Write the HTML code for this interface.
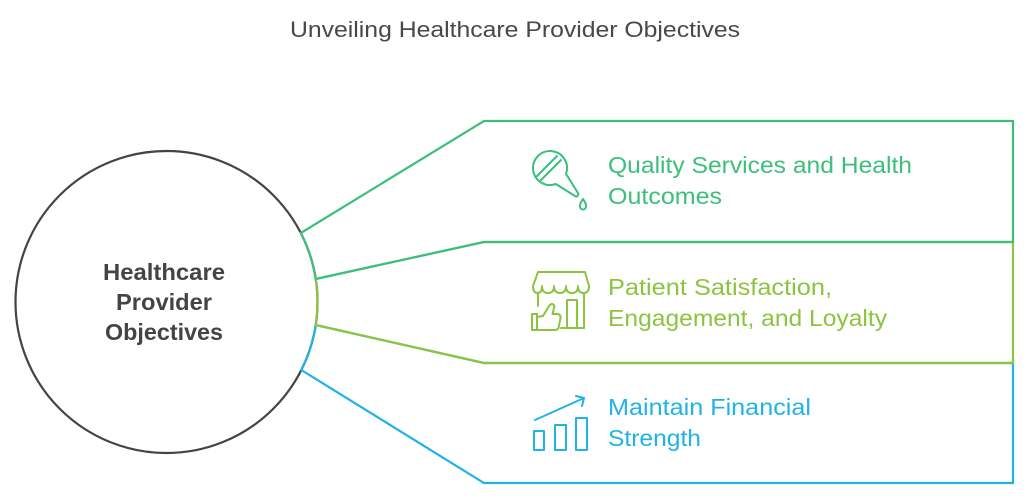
<!DOCTYPE html>
<html>
<head>
<meta charset="utf-8">
<style>
  html, body { margin: 0; padding: 0; background: #ffffff; }
  body { width: 1030px; height: 500px; overflow: hidden; }
  svg { display: block; }
  text { font-family: "Liberation Sans", Arial, sans-serif; }
</style>
</head>
<body>
<svg width="1030" height="500" viewBox="0 0 1030 500" xmlns="http://www.w3.org/2000/svg">
  <rect width="1030" height="500" fill="#ffffff"/>

  <!-- Title -->
  <text x="290" y="37" font-size="22" fill="#484848" textLength="450" lengthAdjust="spacingAndGlyphs">Unveiling Healthcare Provider Objectives</text>

  <!-- Central circle -->
  <circle cx="166.5" cy="302" r="151" fill="none" stroke="#444444" stroke-width="2.2"/>

  <!-- Blue shape -->
  <path d="M 315.7 325 L 484 363 L 1013 363 L 1013 483 L 484 483 L 301.3 370 A 151 151 0 0 0 315.7 325 Z"
        fill="none" stroke="#1fb3e6" stroke-width="2.2" stroke-linejoin="miter"/>
  <!-- Yellow-green shape -->
  <path d="M 315.7 279 L 484 242 L 1013 242 L 1013 363 L 484 363 L 315.7 325 A 151 151 0 0 0 315.7 279 Z"
        fill="none" stroke="#8cc43f" stroke-width="2.2" stroke-linejoin="miter"/>
  <!-- Green shape -->
  <path d="M 300.8 233 L 484 121 L 1013 121 L 1013 242 L 484 242 L 315.7 279 A 151 151 0 0 0 300.8 233 Z"
        fill="none" stroke="#3cbf7c" stroke-width="2.2" stroke-linejoin="miter"/>

  <!-- Center text -->
  <g font-weight="bold" font-size="23" fill="#444444">
    <text x="103" y="280" textLength="122" lengthAdjust="spacingAndGlyphs">Healthcare</text>
    <text x="116" y="310" textLength="96" lengthAdjust="spacingAndGlyphs">Provider</text>
    <text x="105" y="340" textLength="118" lengthAdjust="spacingAndGlyphs">Objectives</text>
  </g>

  <!-- Item 1 text -->
  <g font-size="23" fill="#3cbf7c">
    <text x="608" y="173" textLength="304" lengthAdjust="spacingAndGlyphs">Quality Services and Health</text>
    <text x="608" y="204" textLength="114" lengthAdjust="spacingAndGlyphs">Outcomes</text>
  </g>
  <!-- Item 2 text -->
  <g font-size="23" fill="#8cc43f">
    <text x="608" y="295" textLength="224" lengthAdjust="spacingAndGlyphs">Patient Satisfaction,</text>
    <text x="608" y="326" textLength="279" lengthAdjust="spacingAndGlyphs">Engagement, and Loyalty</text>
  </g>
  <!-- Item 3 text -->
  <g font-size="23" fill="#1fb3e6">
    <text x="608" y="415" textLength="203" lengthAdjust="spacingAndGlyphs">Maintain Financial</text>
    <text x="608" y="446" textLength="93" lengthAdjust="spacingAndGlyphs">Strength</text>
  </g>

  <!-- Icon 1: dropper -->
  <g fill="none" stroke="#3cbf7c" stroke-width="2" stroke-linejoin="round" stroke-linecap="round">
    <path d="M 566 173.8 A 17 17 0 1 0 555.8 184 L 575.6 196.4 Q 577.8 197.4 578.4 193.6 Z"/>
    <line x1="557" y1="156" x2="537" y2="176"/>
    <line x1="561" y1="160" x2="541" y2="180"/>
    <path d="M 583 199 Q 579.5 204 580 206.5 A 3 3 0 0 0 586 206.5 Q 586.5 204 583 199 Z"/>
  </g>

  <!-- Icon 2: storefront with thumbs up -->
  <g fill="none" stroke="#8cc43f" stroke-width="2" stroke-linejoin="round" stroke-linecap="round">
    <path d="M 538 272 L 585 272 L 589 286 Q 589 293 583.5 293 Q 578 293 578 286 Q 578 293 572 293 Q 566 293 566 286 Q 566 293 560 293 Q 554 293 554 286 Q 554 293 548 293 Q 542 293 542 286 Q 542 293 537.5 293 Q 533 293 533 286 Z"/>
    <line x1="538" y1="293" x2="538" y2="306"/>
    <line x1="584" y1="293" x2="584" y2="328"/>
    <line x1="561" y1="328" x2="584" y2="328"/>
    <rect x="567" y="300" width="10" height="28"/>
    <path d="M 532 314 L 537 314 L 537 330 L 532 330 Z"/>
    <path d="M 537 317 L 543 316 L 549 306 Q 552 302 554.5 306 L 552.5 314 L 558 314 Q 561 315 560.5 318 L 558.5 328 Q 557.5 330 554.5 330 L 537 330"/>
  </g>

  <!-- Icon 3: growth chart -->
  <g fill="none" stroke="#1fb3e6" stroke-width="2" stroke-linejoin="round" stroke-linecap="round">
    <rect x="534" y="431" width="10" height="19"/>
    <rect x="555" y="425" width="11" height="25"/>
    <rect x="576" y="418" width="11" height="32"/>
    <line x1="535" y1="420" x2="584" y2="398"/>
    <polyline points="576,396 584,398 582,406"/>
  </g>
</svg>
</body>
</html>
